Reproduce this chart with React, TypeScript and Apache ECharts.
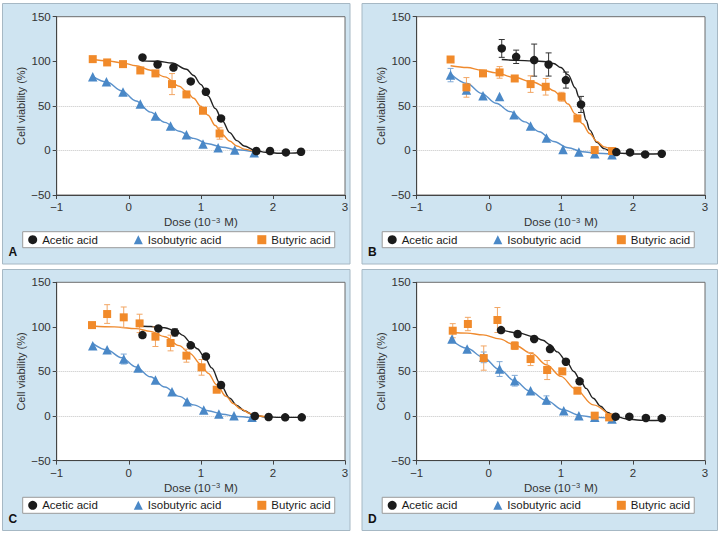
import React, { useEffect, useRef } from "react";
import * as echarts from "echarts";

// ---------- Data (x = log dose, y = viability %, optional 3rd = error) ----------
const seriesNames = ["Acetic acid", "Isobutyric acid", "Butyric acid"];
const panelLetters = ["A", "B", "C", "D"];

// Panel A
const aceticA = [[0.19, 104.3], [0.4, 96.4], [0.62, 93], [0.86, 77.4], [1.07, 65.8], [1.28, 35.9], [1.77, -0.7], [1.96, -0.7], [2.18, -2.2], [2.39, -1.5]];
const isoA = [[-0.5, 82.6], [-0.31, 77], [-0.08, 65.4], [0.16, 52], [0.37, 38.5], [0.58, 27.3], [0.8, 17.6], [1.03, 7.1], [1.24, 3], [1.47, 0.4], [1.74, -2.6]];
const butA = [[-0.5, 102.4], [-0.3, 98.7], [-0.08, 96.8], [0.16, 89.7], [0.37, 86.4], [0.6, 74.4, 11.8], [0.8, 62.8], [1.03, 44.5], [1.26, 19, 6.4]];
const aceticFitA = [[0.19, 100.5], [0.4, 100], [0.6, 98], [0.8, 91], [0.9, 84], [1.0, 74], [1.1, 61], [1.2, 47], [1.3, 33], [1.4, 20], [1.5, 11], [1.6, 5], [1.75, 0], [1.9, -2], [2.1, -3.2], [2.25, -3], [2.4, -2]];
const isoFitA = [[-0.5, 83], [-0.3, 76.5], [-0.1, 67], [0.1, 55.5], [0.3, 43], [0.5, 31.5], [0.7, 21.5], [0.9, 13.5], [1.1, 7.5], [1.3, 3.5], [1.5, 0.8], [1.74, -1.5]];
const butFitA = [[-0.5, 102], [-0.3, 100.5], [-0.1, 98.5], [0.1, 95], [0.3, 90], [0.5, 82.5], [0.7, 72], [0.8, 66], [0.9, 58.5], [1.0, 49.5], [1.1, 39.5], [1.2, 28], [1.3, 17.5], [1.4, 10.5], [1.5, 5], [1.6, 1.5], [1.75, -1.8]];

// Panel B
const aceticB = [[0.18, 114.4, 10], [0.38, 105, 7.5], [0.63, 101.3, 18], [0.83, 96.4, 13], [1.07, 78.9, 9], [1.28, 51.6, 9], [1.77, -1.9], [1.96, -2.2], [2.17, -4.5], [2.4, -3.7]];
const isoB = [[-0.53, 84.5, 7.5], [-0.31, 67.7, 3], [-0.08, 61.3], [0.15, 60.6], [0.35, 40], [0.58, 27.3], [0.8, 13.8], [1.03, 1.1], [1.25, -1.9], [1.47, -3.7], [1.71, -4.9]];
const butB = [[-0.53, 102], [-0.31, 70.7, 11], [-0.08, 86.4], [0.15, 87.5, 6.5], [0.36, 80.7], [0.58, 74.4, 9.3], [0.79, 71.4, 9.3], [1.01, 60.2, 5], [1.23, 35.9], [1.47, 0.4], [1.71, -0.7]];
const aceticFitB = [[0.18, 102], [0.4, 101], [0.6, 100.5], [0.8, 99.5], [0.9, 97.5], [1.0, 93], [1.1, 85], [1.2, 70], [1.25, 60], [1.3, 47], [1.35, 34], [1.4, 23], [1.5, 9], [1.6, 2], [1.7, -1.5], [1.8, -3], [2.0, -4], [2.2, -4], [2.4, -3.8]];
const isoFitB = [[-0.53, 86], [-0.3, 75], [-0.1, 64], [0.1, 53], [0.3, 43.5], [0.5, 32], [0.7, 21], [0.9, 10], [1.1, 3], [1.3, -1.5], [1.5, -3.2], [1.71, -4]];
const butFitB = [[-0.53, 95], [-0.3, 93], [-0.1, 90], [0.1, 87], [0.35, 82], [0.6, 77], [0.8, 71], [0.9, 67], [1.0, 61], [1.1, 52], [1.2, 41], [1.3, 30], [1.4, 19], [1.5, 10], [1.6, 4], [1.71, 0]];

// Panel C
const aceticC = [[0.19, 90.8], [0.41, 98.3], [0.64, 93.8, 4], [0.86, 79.3], [1.07, 66.9], [1.28, 34.8], [1.75, 0], [1.94, -1.1], [2.17, -1.5], [2.4, -1.5]];
const isoC = [[-0.5, 78.9], [-0.3, 74.4], [-0.07, 63.9, 5.6], [0.13, 53.8], [0.37, 40.4], [0.6, 27.3], [0.81, 16], [1.04, 6.7], [1.25, 2.2], [1.46, 0.4], [1.71, -1.5]];
const butC = [[-0.51, 102], [-0.3, 114.4, 10.5], [-0.07, 110.7, 11.6], [0.15, 103.9, 10.3], [0.37, 89, 11], [0.58, 81.9, 8.8], [0.8, 67.7, 7.3], [1.01, 54.6, 8.8], [1.22, 29.5]];
const aceticFitC = [[0.13, 101], [0.3, 100.5], [0.5, 99], [0.65, 95.5], [0.75, 90.5], [0.85, 83], [0.95, 75.5], [1.05, 66.5], [1.15, 54], [1.27, 36], [1.4, 20], [1.5, 12], [1.6, 6], [1.73, 1], [1.9, -1], [2.1, -1.5], [2.4, -1.5]];
const isoFitC = [[-0.51, 82], [-0.3, 74], [-0.1, 65.5], [0.1, 55], [0.3, 44], [0.5, 32.5], [0.7, 22], [0.9, 12.5], [1.1, 6], [1.3, 2], [1.5, -0.5], [1.7, -1.8]];
const butFitC = [[-0.51, 101], [-0.2, 100], [0.1, 98], [0.3, 95], [0.5, 89], [0.7, 79], [0.85, 70], [1.0, 58], [1.1, 48], [1.22, 35], [1.35, 22], [1.45, 14], [1.55, 8], [1.68, 3], [1.8, 0], [1.93, -1]];

// Panel D
const aceticD = [[0.17, 96.4], [0.4, 92], [0.63, 86.4], [0.85, 75.1], [1.07, 60.9], [1.26, 38.9], [1.76, -0.7], [1.95, -0.7], [2.18, -2.2], [2.4, -2.6]];
const isoD = [[-0.51, 86.4], [-0.3, 75.1], [-0.07, 65.8, 6], [0.15, 52.7, 8.3], [0.36, 39.6, 6], [0.58, 28.4], [0.8, 17.9, 4.7], [1.04, 6], [1.25, 0.4], [1.47, -1.5], [1.71, -3.4]];
const butD = [[-0.5, 95.7, 7.9], [-0.29, 103.2, 7.5], [-0.07, 65, 13.6], [0.12, 107.7, 14], [0.36, 78.9, 4.3], [0.58, 63.9, 7.3], [0.81, 51.6, 10.7], [1.02, 50.1], [1.23, 28.4], [1.47, 0.4], [1.67, -1.5]];
const aceticFitD = [[0.16, 97], [0.4, 93.5], [0.62, 89], [0.75, 85], [0.85, 80], [0.95, 72], [1.08, 61], [1.18, 50], [1.27, 40], [1.35, 31], [1.45, 20], [1.55, 11], [1.65, 4], [1.75, 0], [1.9, -3], [2.1, -4.8], [2.25, -5], [2.4, -4.8]];
const isoFitD = [[-0.53, 86.5], [-0.3, 76], [-0.08, 66], [0.15, 52], [0.36, 39.5], [0.57, 28], [0.8, 17.5], [1.03, 7], [1.27, 0.5], [1.47, -1.5], [1.71, -2.6]];
const butFitD = [[-0.52, 94], [-0.3, 93], [-0.08, 91], [0.15, 86.5], [0.35, 80], [0.6, 70], [0.8, 57.5], [1.0, 44.5], [1.2, 30.5], [1.45, 12.5], [1.68, 0]];

const pointsByPanel = [
  [aceticA, isoA, butA],
  [aceticB, isoB, butB],
  [aceticC, isoC, butC],
  [aceticD, isoD, butD],
];
const fitsByPanel = [
  [aceticFitA, isoFitA, butFitA],
  [aceticFitB, isoFitB, butFitB],
  [aceticFitC, isoFitC, butFitC],
  [aceticFitD, isoFitD, butFitD],
];
const refLines = [0, 50];

// ---------- Styling ----------
const FONT = "'Liberation Sans', Arial, Helvetica, sans-serif";
const markerColors = ["#1b1b1b", "#4a88c7", "#f18a2a"];
const lineColors = ["#222222", "#5a91cb", "#ef8a2e"];
const errColors = ["#333333", "#7fa9d6", "#f2a664"];
const symbols = ["circle", "triangle", "rect"];
const symbolSizes = [8.5, 9.5, 8];

const panelBoxes = [
  { x: 2.5, y: 3.5, w: 347.5, h: 260.5 },
  { x: 362, y: 3.5, w: 355.5, h: 260.5 },
  { x: 2.5, y: 269.5, w: 347.5, h: 261 },
  { x: 362, y: 269.5, w: 355.5, h: 261 },
];
const gridPos = [
  { left: 56.7, top: 16.7 },
  { left: 416.7, top: 16.7 },
  { left: 56.7, top: 282.3 },
  { left: 416.7, top: 282.3 },
];
const GRID_W = 288.3;
const GRID_H = 178.3;

const fmt = (v: number) => (v < 0 ? "\u2212" + Math.abs(v) : String(v));

function buildOption() {
  const grid: any[] = [];
  const xAxis: any[] = [];
  const yAxis: any[] = [];
  const legend: any[] = [];
  const series: any[] = [];
  const graphic: any[] = [];

  panelBoxes.forEach((b, i) => {
    graphic.push({
      type: "rect",
      z: -10,
      shape: { x: b.x, y: b.y, width: b.w, height: b.h },
      style: { fill: "#cfe4f1", stroke: "#a6b8c4", lineWidth: 1 },
      silent: true,
    });
    graphic.push({
      type: "text",
      z: 10,
      x: b.x + 6,
      y: b.y + b.h - 18,
      style: { text: panelLetters[i], font: `bold 12px ${FONT}`, fill: "#111" },
      silent: true,
    });
  });

  gridPos.forEach((g, i) => {
    grid.push({
      left: g.left,
      top: g.top,
      width: GRID_W,
      height: GRID_H,
      show: true,
      backgroundColor: "#ffffff",
      borderColor: "#6d6d6d",
      borderWidth: 1,
    });
    xAxis.push({
      type: "value",
      gridIndex: i,
      min: -1,
      max: 3,
      interval: 1,
      name: "Dose (10{sup|\u22123} M)",
      nameLocation: "middle",
      nameGap: 21,
      nameTextStyle: {
        fontSize: 11.5,
        color: "#333",
        fontFamily: FONT,
        rich: { sup: { fontSize: 7.5, verticalAlign: "top", color: "#333", fontFamily: FONT, padding: [0, 1, 0, 1] } },
      },
      axisLine: { show: true, onZero: false, lineStyle: { color: "#444", width: 1 } },
      axisTick: { show: true, length: 4, lineStyle: { color: "#444" } },
      axisLabel: { fontSize: 11.5, color: "#333", margin: 6, formatter: fmt, fontFamily: FONT },
      splitLine: { show: false },
    });
    yAxis.push({
      type: "value",
      gridIndex: i,
      min: -50,
      max: 150,
      interval: 50,
      name: "Cell viability (%)",
      nameLocation: "middle",
      nameRotate: 90,
      nameGap: 30,
      nameTextStyle: { fontSize: 11, color: "#333", fontFamily: FONT },
      axisLine: { show: true, onZero: false, lineStyle: { color: "#444", width: 1 } },
      axisTick: { show: true, length: 4, lineStyle: { color: "#444" } },
      axisLabel: { fontSize: 11.5, color: "#333", margin: 6, formatter: fmt, fontFamily: FONT },
      splitLine: { show: false },
    });
    legend.push({
      left: panelBoxes[i].x + 20.2,
      top: g.top + 215,
      orient: "horizontal",
      selectedMode: false,
      backgroundColor: "#ffffff",
      borderColor: "#9a9a9a",
      borderWidth: 1,
      borderRadius: 0,
      padding: [2, 4, 2, 5.5],
      itemGap: 36,
      itemWidth: 9,
      itemHeight: 9,
      textStyle: { fontSize: 11.5, color: "#1a1a1a", fontFamily: FONT },
      data: seriesNames.map((n, k) => ({ name: n, icon: symbols[k] })),
    });

    // fitted curves
    fitsByPanel[i].forEach((fit, k) => {
      const s: any = {
        name: seriesNames[k] + " fit " + panelLetters[i],
        type: "line",
        xAxisIndex: i,
        yAxisIndex: i,
        data: fit,
        smooth: 0.35,
        smoothMonotone: "x",
        showSymbol: false,
        symbol: "none",
        z: 2,
        silent: true,
        lineStyle: { color: lineColors[k], width: 1.4 },
      };
      if (k === 0) {
        s.markLine = {
          silent: true,
          symbol: "none",
          label: { show: false },
          lineStyle: { color: "#c4c4c4", type: "dotted", width: 1 },
          data: refLines.map((v) => ({ yAxis: v })),
          z: 1,
        };
      }
      series.push(s);
    });

    // error bars
    pointsByPanel[i].forEach((pts, k) => {
      const withErr = pts.filter((p) => p.length > 2 && p[2] > 0);
      if (!withErr.length) return;
      const color = errColors[k];
      series.push({
        name: seriesNames[k] + " error " + panelLetters[i],
        type: "custom",
        xAxisIndex: i,
        yAxisIndex: i,
        data: withErr,
        encode: { x: 0, y: 1 },
        z: 3,
        silent: true,
        renderItem: (params: any, api: any) => {
          const x = api.value(0);
          const y = api.value(1);
          const e = api.value(2);
          const t = api.coord([x, y + e]);
          const bt = api.coord([x, y - e]);
          const hw = 3;
          const style = { stroke: color, lineWidth: 1, fill: "none" };
          return {
            type: "group",
            children: [
              { type: "line", shape: { x1: t[0], y1: t[1], x2: bt[0], y2: bt[1] }, style },
              { type: "line", shape: { x1: t[0] - hw, y1: t[1], x2: t[0] + hw, y2: t[1] }, style },
              { type: "line", shape: { x1: bt[0] - hw, y1: bt[1], x2: bt[0] + hw, y2: bt[1] }, style },
            ],
          };
        },
      });
    });

    // scatter markers (blue, orange, then black on top)
    [1, 2, 0].forEach((k) => {
      series.push({
        name: seriesNames[k],
        type: "scatter",
        xAxisIndex: i,
        yAxisIndex: i,
        data: pointsByPanel[i][k].map((p) => [p[0], p[1]]),
        symbol: symbols[k],
        symbolSize: symbolSizes[k],
        z: 4,
        itemStyle: { color: markerColors[k], opacity: 1 },
      });
    });
  });

  return {
    animation: false,
    backgroundColor: "#ffffff",
    textStyle: { fontFamily: FONT },
    grid,
    xAxis,
    yAxis,
    legend,
    series,
    graphic: { elements: graphic },
  };
}

export default function App() {
  const ref = useRef<HTMLDivElement>(null);
  useEffect(() => {
    if (!ref.current) return;
    const chart = echarts.init(ref.current, undefined, { renderer: "svg" });
    chart.setOption(buildOption() as any);
    return () => chart.dispose();
  }, []);
  return (
    <div
      ref={ref}
      style={{ position: "absolute", left: 0, top: 0, width: 720, height: 534 }}
    />
  );
}
